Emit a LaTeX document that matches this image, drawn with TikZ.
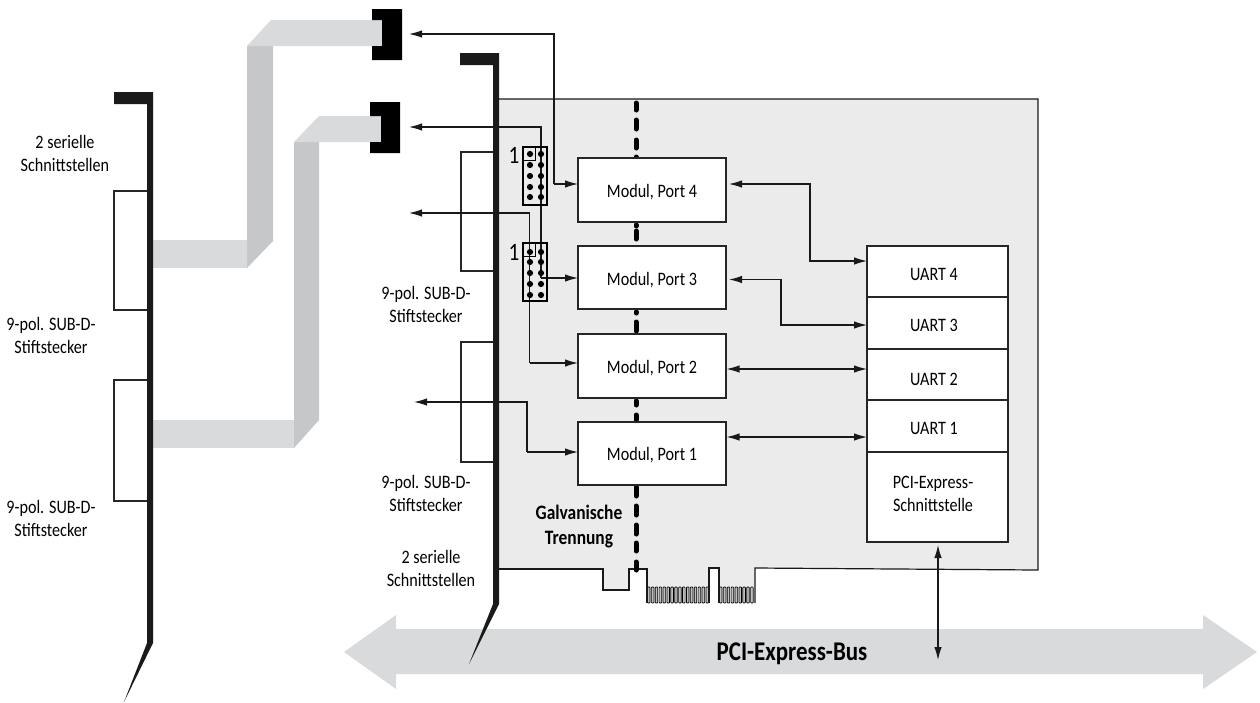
\documentclass[tikz,border=0pt]{standalone}
\usepackage{fontspec}
\setmainfont[FakeStretch=0.85]{Carlito}
\usetikzlibrary{arrows.meta,calc}
\definecolor{boardgray}{HTML}{EBEBEB}
\definecolor{ribbonlight}{HTML}{D9DADB}
\definecolor{ribbondark}{HTML}{C6C7C8}
\definecolor{bracketblack}{HTML}{1A1A1A}
\tikzset{
  wire/.style={line width=1.2pt,draw=black!90},
  arr/.style={wire,-{Latex[length=13pt,width=7.5pt]}},
  biarr/.style={wire,{Latex[length=13pt,width=7.5pt]}-{Latex[length=13pt,width=7.5pt]}},
  lbl/.style={inner sep=0pt,outer sep=0pt,align=center,font=\fontsize{19}{23}\selectfont},
  blbl/.style={lbl,font=\fontsize{20.5}{25}\selectfont\bfseries},
  box/.style={draw=black!85,line width=1.2pt,fill=white,inner sep=0pt,outer sep=0pt,font=\fontsize{19}{23}\selectfont,text depth=0pt},
  modbox/.style={box,minimum width=148pt},
  uartbox/.style={box,minimum width=141pt},
  subd/.style={draw=black!85,line width=1.1pt},
  jumper/.style={draw=black,line width=1.1pt,fill=none,inner sep=0pt,outer sep=0pt,minimum width=24pt,minimum height=58pt},
  pinbox/.style={draw=black,line width=1pt,inner sep=0pt,outer sep=0pt,minimum width=12.5pt,minimum height=13.5pt},
  pin/.style={fill=black,circle,inner sep=0pt,minimum size=6.2pt},
  isol/.style={line width=5pt,line cap=round,draw=black},
  finger/.style={draw=black,line width=.7pt,fill=black!25,rounded corners=.7pt},
}
\begin{document}
\begin{tikzpicture}[x=1pt,y=-1pt]
\useasboundingbox (0,0) rectangle (1260,702);

% bus arrow
\fill[ribbonlight] (344,652) -- (396,615) -- (396,629) -- (1203,629) -- (1203,615) -- (1257,652) -- (1203,689) -- (1203,674) -- (396,674) -- (396,689) -- cycle;

% ribbon cables
\fill[ribbonlight] (153,240) rectangle (248,268);
\fill[ribbondark] (247,46) -- (273,46) -- (273,241) -- (247,268) -- cycle;
\fill[ribbonlight] (247,46) -- (271,20) -- (382,20) -- (382,46) -- cycle;
\fill[ribbonlight] (153,420) rectangle (295,448);
\fill[ribbondark] (294,142) -- (319,142) -- (319,420) -- (294,448) -- cycle;
\fill[ribbonlight] (294,142) -- (319,116) -- (381,116) -- (381,142) -- cycle;
\fill[black] (372,9) -- (402,9) -- (402,60) -- (372,60) -- (372,46) -- (382,46) -- (382,20) -- (372,20) -- cycle;
\fill[black] (370,102) -- (400,102) -- (400,153) -- (370,153) -- (370,142) -- (381,142) -- (381,116) -- (370,116) -- cycle;

% board
\fill[boardgray] (499,99) -- (499,569) -- (603,569) -- (603,590) -- (629,590) -- (629,569) -- (647,569) -- (647,587) -- (709,587) -- (709,568) -- (719,568) -- (719,587) -- (755,587) -- (755,568) -- (1038,570) -- (1038,99) -- cycle;
\foreach \i in {0,...,15} \draw[finger] ({647.4+3.9*\i},587) rectangle ({650+3.9*\i},603);
\foreach \i in {0,...,8} \draw[finger] ({719.4+3.9*\i},587) rectangle ({722+3.9*\i},603);
\draw[wire] (499,569) -- (603,569) -- (603,590) -- (629,590) -- (629,569) -- (647,569) -- (647,603);
\draw[wire] (709,603) -- (709,568) -- (719,568) -- (719,603);
\draw[wire] (755,603) -- (755,568) -- (1038,570) -- (1038,99) -- (499,99);

% galvanic isolation
\foreach \a/\b in {103/110,120/129,140/148,157/160,225/226,231/239,312/313,322/331,401/405,415/420,487/496,506/515,525/534,543/551,562/570}
  \draw[isol] (636,\a) -- (636,\b);

% slot brackets
\fill[bracketblack] (114,92) -- (153,92) -- (153,643) -- (124,702) -- (147,643) -- (147,104) -- (114,104) -- cycle;
\fill[bracketblack] (460,53) -- (499,53) -- (499,604) -- (469,664) -- (493,604) -- (493,65) -- (460,65) -- cycle;

% SUB-D outlines
\draw[subd] (147,191) -- (114,191) -- (114,310) -- (147,310);
\draw[subd] (147,380) -- (114,380) -- (114,501) -- (147,501);
\draw[subd] (493,152) -- (461,152) -- (461,271) -- (493,271);
\draw[subd] (493,342) -- (461,342) -- (461,462) -- (493,462);

% modules
\node[modbox,minimum height=64pt,text height=14pt] (m4) at (652,190) {Modul, Port 4};
\node[modbox,minimum height=63pt,text height=15pt] (m3) at (652,277.5) {Modul, Port 3};
\node[modbox,minimum height=64pt,text height=14pt] (m2) at (652,366) {Modul, Port 2};
\node[modbox,minimum height=63pt,text height=13pt] (m1) at (652,453.5) {Modul, Port 1};

% UART stack
\node[uartbox,minimum height=51pt,text height=17pt] (u4) at (937.5,271.5) {UART 4\hspace*{7pt}};
\node[uartbox,minimum height=52pt,text height=16pt] (u3) at (937.5,323) {UART 3\hspace*{7pt}};
\node[uartbox,minimum height=51pt,text height=21pt] (u2) at (937.5,374.5) {UART 2\hspace*{7pt}};
\node[uartbox,minimum height=52pt,text height=16pt] (u1) at (937.5,426) {UART 1\hspace*{7pt}};
\node[uartbox,minimum height=90pt] (pcie) at (937.5,497) {};
\node[lbl] (t9) at (933,493.5) {PCI-Express-\\Schnittstelle};

% free ends
\coordinate (fa) at (409,34);
\coordinate (fb) at (409,127);
\coordinate (fc) at (409,213);
\coordinate (fd) at (414,402);
\coordinate (bus) at (938,660);

% wires to the outside
\draw[arr] (554,184) |- (fa);
\draw[arr] (554,184) -- ($(m4.west)+(0,-6)$);
\draw[arr] (541,278) |- (fb);
\draw[arr] (541,278) -- ($(m3.west)+(0,.5)$);
\draw[arr] (529.5,363) |- (fc);
\draw[arr] (529.5,363) -- ($(m2.west)+(0,-3)$);
\draw[arr] (527,452) |- (fd);
\draw[arr] (527,452) -- ($(m1.west)+(0,-1.5)$);

% jumpers
\node[jumper] (j1) at (535,176) {};
\node[jumper] (j2) at (535,272) {};
\node[pinbox] (p1) at (529.3,153.7) {};
\node[pinbox] (p2) at (529.3,249.7) {};
\foreach \y in {154,165,176,187,197} {\node[pin] at (530,\y) {}; \node[pin] at (541,\y) {};}
\foreach \y in {252,262,273,284,295} {\node[pin] at (530,\y) {}; \node[pin] at (541,\y) {};}
\node[lbl,font=\fontsize{25}{25}\selectfont] (n1) at (514,155) {1};
\node[lbl,font=\fontsize{25}{25}\selectfont] (n2) at (514,252) {1};

% module to UART
\draw[biarr] ($(m4.east)+(3,-6)$) -| (810,261) -- ($(u4.west)+(0,-10.5)$);
\draw[biarr] ($(m3.east)+(3,2)$) -| (781,325) -- ($(u3.west)+(0,2)$);
\draw[biarr] ($(m2.east)+(.5,3)$) -- ($(u2.west)+(0,-5.5)$);
\draw[biarr] ($(m1.east)+(.5,-16.5)$) -- ($(u1.west)+(0,11)$);
\draw[biarr] ($(pcie.south)+(.5,3)$) -- (bus);

% labels
\node[lbl] (t1) at (65,153.5) {2 serielle\\Schnittstellen};
\node[lbl] (t2) at (51,335) {9-pol. SUB-D-\\Stiftstecker};
\node[lbl] (t3) at (51,518.5) {9-pol. SUB-D-\\Stiftstecker};
\node[lbl] (t4) at (426,304) {9-pol. SUB-D-\\Stiftstecker};
\node[lbl] (t5) at (426,493.5) {9-pol. SUB-D-\\Stiftstecker};
\node[lbl] (t6) at (431,568.5) {2 serielle\\Schnittstellen};
\node[blbl] (t7) at (579,526.5) {Galvanische\\Trennung};
\node[blbl,font=\fontsize{27}{25}\selectfont\bfseries] (t8) at (792,654) {PCI-Express-Bus};
\end{tikzpicture}
\end{document}
